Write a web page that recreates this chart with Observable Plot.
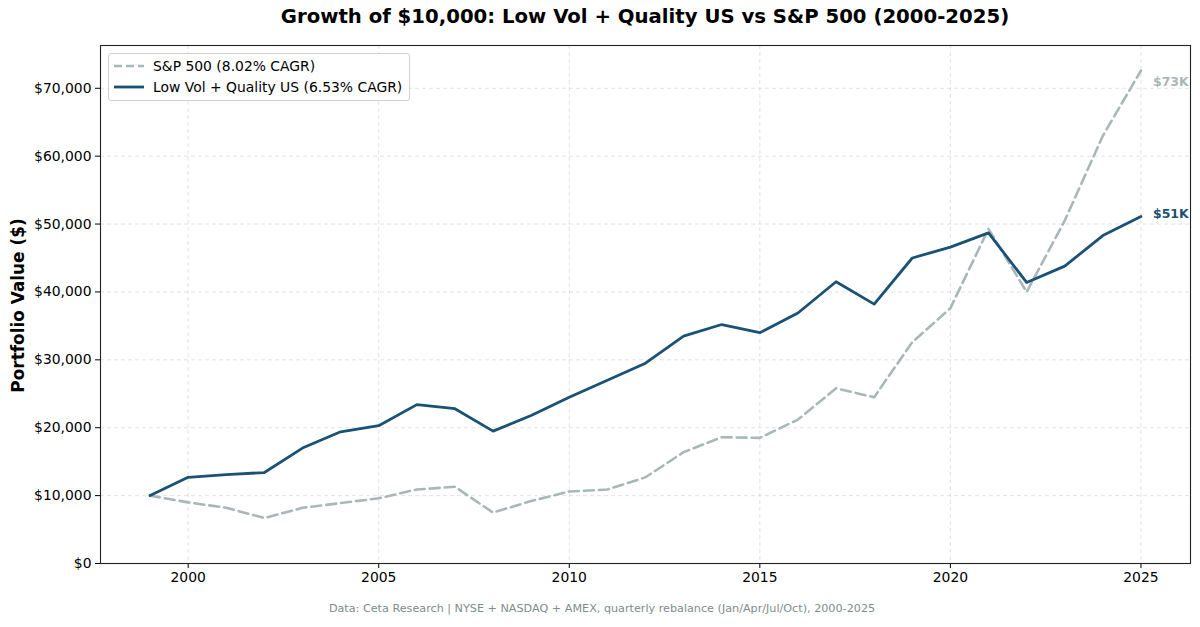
<!DOCTYPE html>
<html>
<head>
<meta charset="utf-8">
<script src="https://cdn.jsdelivr.net/npm/d3@7"></script>
<script src="https://cdn.jsdelivr.net/npm/@observablehq/plot@0.6"></script>
<style>
  html, body { margin: 0; padding: 0; background: #fff; }
  #wrap { position: relative; width: 1200px; height: 627px; font-family: "DejaVu Sans", sans-serif; }
  #title { position: absolute; left: 100px; width: 1090px; top: 5px; text-align: center; font-size: 19.7px; font-weight: bold; color: #000; }
  #caption { position: absolute; left: 0; width: 1204px; top: 602px; text-align: center; font-size: 11.2px; color: #7f8c8d; }
  #legend { position: absolute; left: 108px; top: 53px; width: 300px; height: 46px; border: 1px solid #d0d0d0; border-radius: 3px; background: rgba(255,255,255,0.85); font-size: 13.9px; color: #000; }
  .lg { position: absolute; left: 0; height: 20px; display: flex; align-items: center; }
  .lg svg { margin-left: 5px; margin-right: 9px; }
</style>
</head>
<body>
<div id="wrap">
  <div id="chart"></div>
  <div id="title">Growth of $10,000: Low Vol + Quality US vs S&amp;P 500 (2000-2025)</div>
  <div id="legend">
    <div class="lg" style="top:2px"><svg width="30" height="6"><line x1="0" y1="3" x2="30" y2="3" stroke="#aab7b8" stroke-width="2.6" stroke-dasharray="8,4"/></svg><span>S&amp;P 500 (8.02% CAGR)</span></div>
    <div class="lg" style="top:23px"><svg width="30" height="6"><line x1="0" y1="3" x2="30" y2="3" stroke="#1a5276" stroke-width="2.8"/></svg><span>Low Vol + Quality US (6.53% CAGR)</span></div>
  </div>
  <div id="caption">Data: Ceta Research | NYSE + NASDAQ + AMEX, quarterly rebalance (Jan/Apr/Jul/Oct), 2000-2025</div>
</div>
<script>
const years = [1999,2000,2001,2002,2003,2004,2005,2006,2007,2008,2009,2010,2011,2012,2013,2014,2015,2016,2017,2018,2019,2020,2021,2022,2023,2024,2025];
const lowVolQuality = [10000,12700,13100,13400,17000,19400,20300,23400,22800,19500,21800,24500,27000,29500,33500,35200,34000,36900,41500,38200,45000,46600,48700,41400,43800,48300,51100];
const sp500 = [10000,9000,8200,6700,8200,8900,9600,10900,11300,7500,9200,10600,10900,12700,16400,18600,18500,21200,25800,24500,32600,37600,49300,40000,50500,63000,72600];
const xTicks = [2000,2005,2010,2015,2020,2025];
const yTicks = [0,10000,20000,30000,40000,50000,60000,70000];
const endLabels = ["$73K", "$51K"];

const sp = years.map((y, i) => ({year: y, value: sp500[i]}));
const lv = years.map((y, i) => ({year: y, value: lowVolQuality[i]}));
const last = years.length - 1;
const spEnd = [{year: years[last], value: sp500[last], label: endLabels[0]}];
const lvEnd = [{year: years[last], value: lowVolQuality[last], label: endLabels[1]}];

const fmt = d => "$" + d3.format(",")(d);

const chart = Plot.plot({
  width: 1200,
  height: 627,
  marginTop: 45,
  marginLeft: 100,
  marginRight: 10,
  marginBottom: 64,
  style: {fontFamily: "DejaVu Sans, sans-serif", fontSize: "13.9px", color: "#000", background: "#fff"},
  x: {domain: [1997.7, 2026.3], ticks: xTicks, tickFormat: d => String(d), label: null},
  y: {domain: [0, 76300], ticks: yTicks, tickFormat: fmt, label: null},
  marks: [
    Plot.gridX(xTicks, {stroke: "#b0b0b0", strokeOpacity: 0.35, strokeDasharray: "4,3", strokeWidth: 1}),
    Plot.gridY(yTicks, {stroke: "#b0b0b0", strokeOpacity: 0.35, strokeDasharray: "4,3", strokeWidth: 1}),
    Plot.axisX({ticks: xTicks, tickFormat: d => String(d), tickSize: 5, tickPadding: 4, label: null, fontSize: 13.9, stroke: "#000"}),
    Plot.axisY({ticks: yTicks, tickFormat: fmt, tickSize: 5, tickPadding: 4, label: null, fontSize: 13.9, stroke: "#000"}),
    Plot.line(sp, {x: "year", y: "value", stroke: "#aab7b8", strokeWidth: 2.6, strokeDasharray: "10,5"}),
    Plot.line(lv, {x: "year", y: "value", stroke: "#1a5276", strokeWidth: 2.8}),
    Plot.text(spEnd, {x: "year", y: "value", text: "label", fill: "#aab7b8", textAnchor: "start", dx: 12, dy: 11, fontWeight: "bold", fontSize: 12.5}),
    Plot.text(lvEnd, {x: "year", y: "value", text: "label", fill: "#1a5276", textAnchor: "start", dx: 12, dy: -3, fontWeight: "bold", fontSize: 12.5}),
    Plot.frame({stroke: "#222", strokeWidth: 1.1}),
    Plot.text(["Portfolio Value ($)"], {frameAnchor: "left", textAnchor: "middle", rotate: -90, dx: -82, dy: 1, fontWeight: "bold", fontSize: 16.9, fill: "#000"})
  ]
});
document.getElementById("chart").appendChild(chart);
</script>
</body>
</html>
